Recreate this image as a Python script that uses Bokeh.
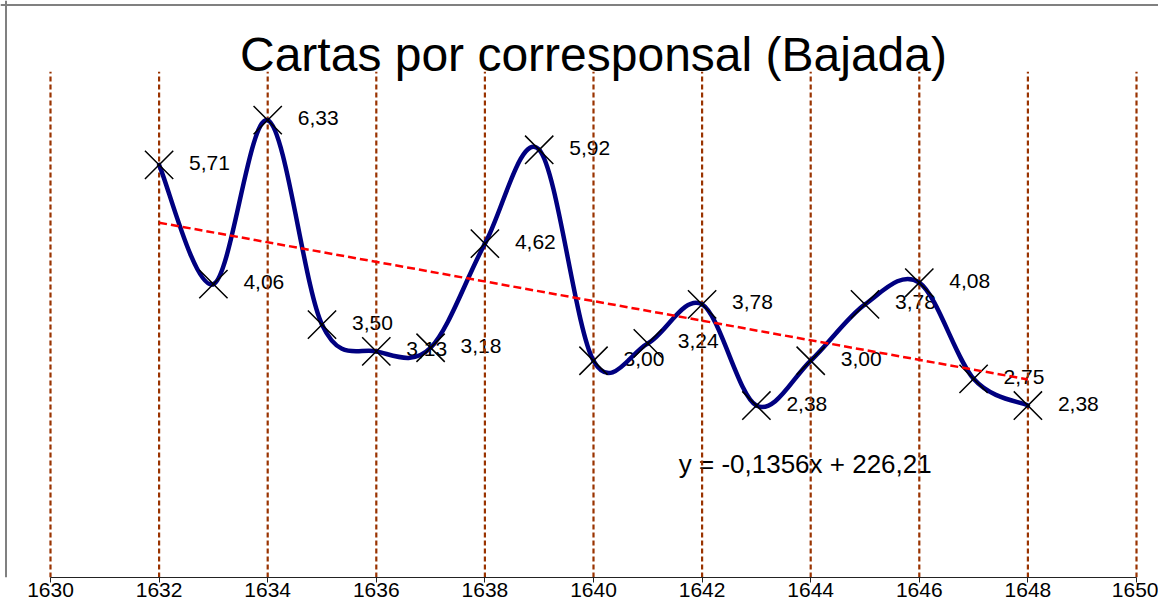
from bokeh.plotting import figure
from bokeh.models import Range1d, FixedTicker, Span, ColumnDataSource
from bokeh.core.properties import value
from bokeh.embed import file_html
from bokeh.resources import INLINE

# ---- data ----
years = [1632, 1633, 1634, 1635, 1636, 1637, 1638, 1639, 1640,
         1641, 1642, 1643, 1644, 1645, 1646, 1647, 1648]
cartas = [5.71, 4.06, 6.33, 3.50, 3.13, 3.18, 4.62, 5.92, 3.00,
          3.24, 3.78, 2.38, 3.00, 3.78, 4.08, 2.75, 2.38]
value_labels = ["5,71", "4,06", "6,33", "3,50", "3,13", "3,18", "4,62", "5,92", "3,00",
                "3,24", "3,78", "2,38", "3,00", "3,78", "4,08", "2,75", "2,38"]
tick_years = [1630, 1632, 1634, 1636, 1638, 1640, 1642, 1644, 1646, 1648, 1650]
tick_labels = ["1630", "1632", "1634", "1636", "1638", "1640",
               "1642", "1644", "1646", "1648", "1650"]
trend_slope = -0.1356
trend_intercept = 226.21
trend_text = "y = -0,1356x + 226,21"
title_text = "Cartas por corresponsal (Bajada)"

FONT = "Liberation Sans"
W, H = 1158, 599
LEFT_PX = 50            # screen x of first tick
PX_X = (1136 - 50) / 20  # pixels per year
FRAME_H = 571
PX_Y = (571 - 70.5) / 7  # pixels per unit

x0 = tick_years[0] - LEFT_PX / PX_X
x1 = x0 + W / PX_X
y1 = FRAME_H / PX_Y

p = figure(width=W, height=H, output_backend="svg", toolbar_location=None,
           x_range=Range1d(x0, x1), y_range=Range1d(0, y1),
           y_axis_location=None, min_border_left=0, min_border_right=0,
           min_border_top=0, min_border_bottom=0,
           background_fill_color="white", border_fill_color="white")
p.outline_line_color = None
p.xgrid.visible = False
p.ygrid.visible = False

ax = p.xaxis[0]
ax.ticker = FixedTicker(ticks=tick_years)
ax.major_label_overrides = {t: l for t, l in zip(tick_years, tick_labels)}
ax.bounds = (tick_years[0], tick_years[-1])
ax.axis_line_color = "#222222"
ax.major_tick_line_color = "#222222"
ax.major_tick_out = 5
ax.major_tick_in = 0
ax.minor_tick_line_color = None
ax.major_label_standoff = 0
ax.major_label_text_font = FONT
ax.major_label_text_font_size = "21px"
ax.major_label_text_color = "black"

src = ColumnDataSource(dict(x=years, y=cartas, lab=value_labels))

# labels (bottom layer)
p.text(x="x", y="y", text="lab", source=src, x_offset=30, y_offset=-2,
       text_font=value(FONT), text_font_size="21px", text_color="black",
       text_align="left", text_baseline="middle")
p.text(x=[1641.57], y=[1.57], text=[trend_text], text_font=value(FONT),
       text_font_size="26px", text_color="black",
       text_align="left", text_baseline="middle")
p.text(x=[(tick_years[0] + tick_years[-1]) / 2], y=[7.245], text=[title_text],
       text_font=value(FONT), text_font_size="48px", text_color="black",
       text_align="center", text_baseline="middle")

# vertical dashed lines
p.segment(x0=tick_years, y0=[0] * len(tick_years), x1=tick_years, y1=[7] * len(tick_years),
          line_color="#993300", line_width=2.2, line_dash="5 3")

# smoothed curve (Catmull-Rom style bezier through the data)
n = len(years)
bx0, by0, bx1, by1, cx0, cy0, cx1, cy1 = [], [], [], [], [], [], [], []
for i in range(n - 1):
    im = max(i - 1, 0)
    ip = min(i + 2, n - 1)
    bx0.append(years[i]); by0.append(cartas[i])
    bx1.append(years[i + 1]); by1.append(cartas[i + 1])
    cx0.append(years[i] + (years[i + 1] - years[im]) / 6)
    cy0.append(cartas[i] + (cartas[i + 1] - cartas[im]) / 6)
    cx1.append(years[i + 1] - (years[ip] - years[i]) / 6)
    cy1.append(cartas[i + 1] - (cartas[ip] - cartas[i]) / 6)
p.bezier(x0=bx0, y0=by0, x1=bx1, y1=by1, cx0=cx0, cy0=cy0, cx1=cx1, cy1=cy1,
         line_color="#000080", line_width=4.5, line_cap="round")

# markers
p.scatter(x="x", y="y", source=src, marker="x", size=40,
          line_color="black", line_width=1.5)

# trend line
tx = [years[0], years[-1]]
ty = [trend_slope * t + trend_intercept for t in tx]
p.line(tx, ty, line_color="#FF0000", line_width=2.5, line_dash="8 4")

# outer border (left and top)
p.add_layout(Span(location=x0 + 5.5 / PX_X, dimension="height",
                  line_color="#808080", line_width=2))
p.add_layout(Span(location=y1 - 4.5 / PX_Y, dimension="width",
                  line_color="#808080", line_width=2))

open("out.html", "w").write(file_html(p, INLINE))
